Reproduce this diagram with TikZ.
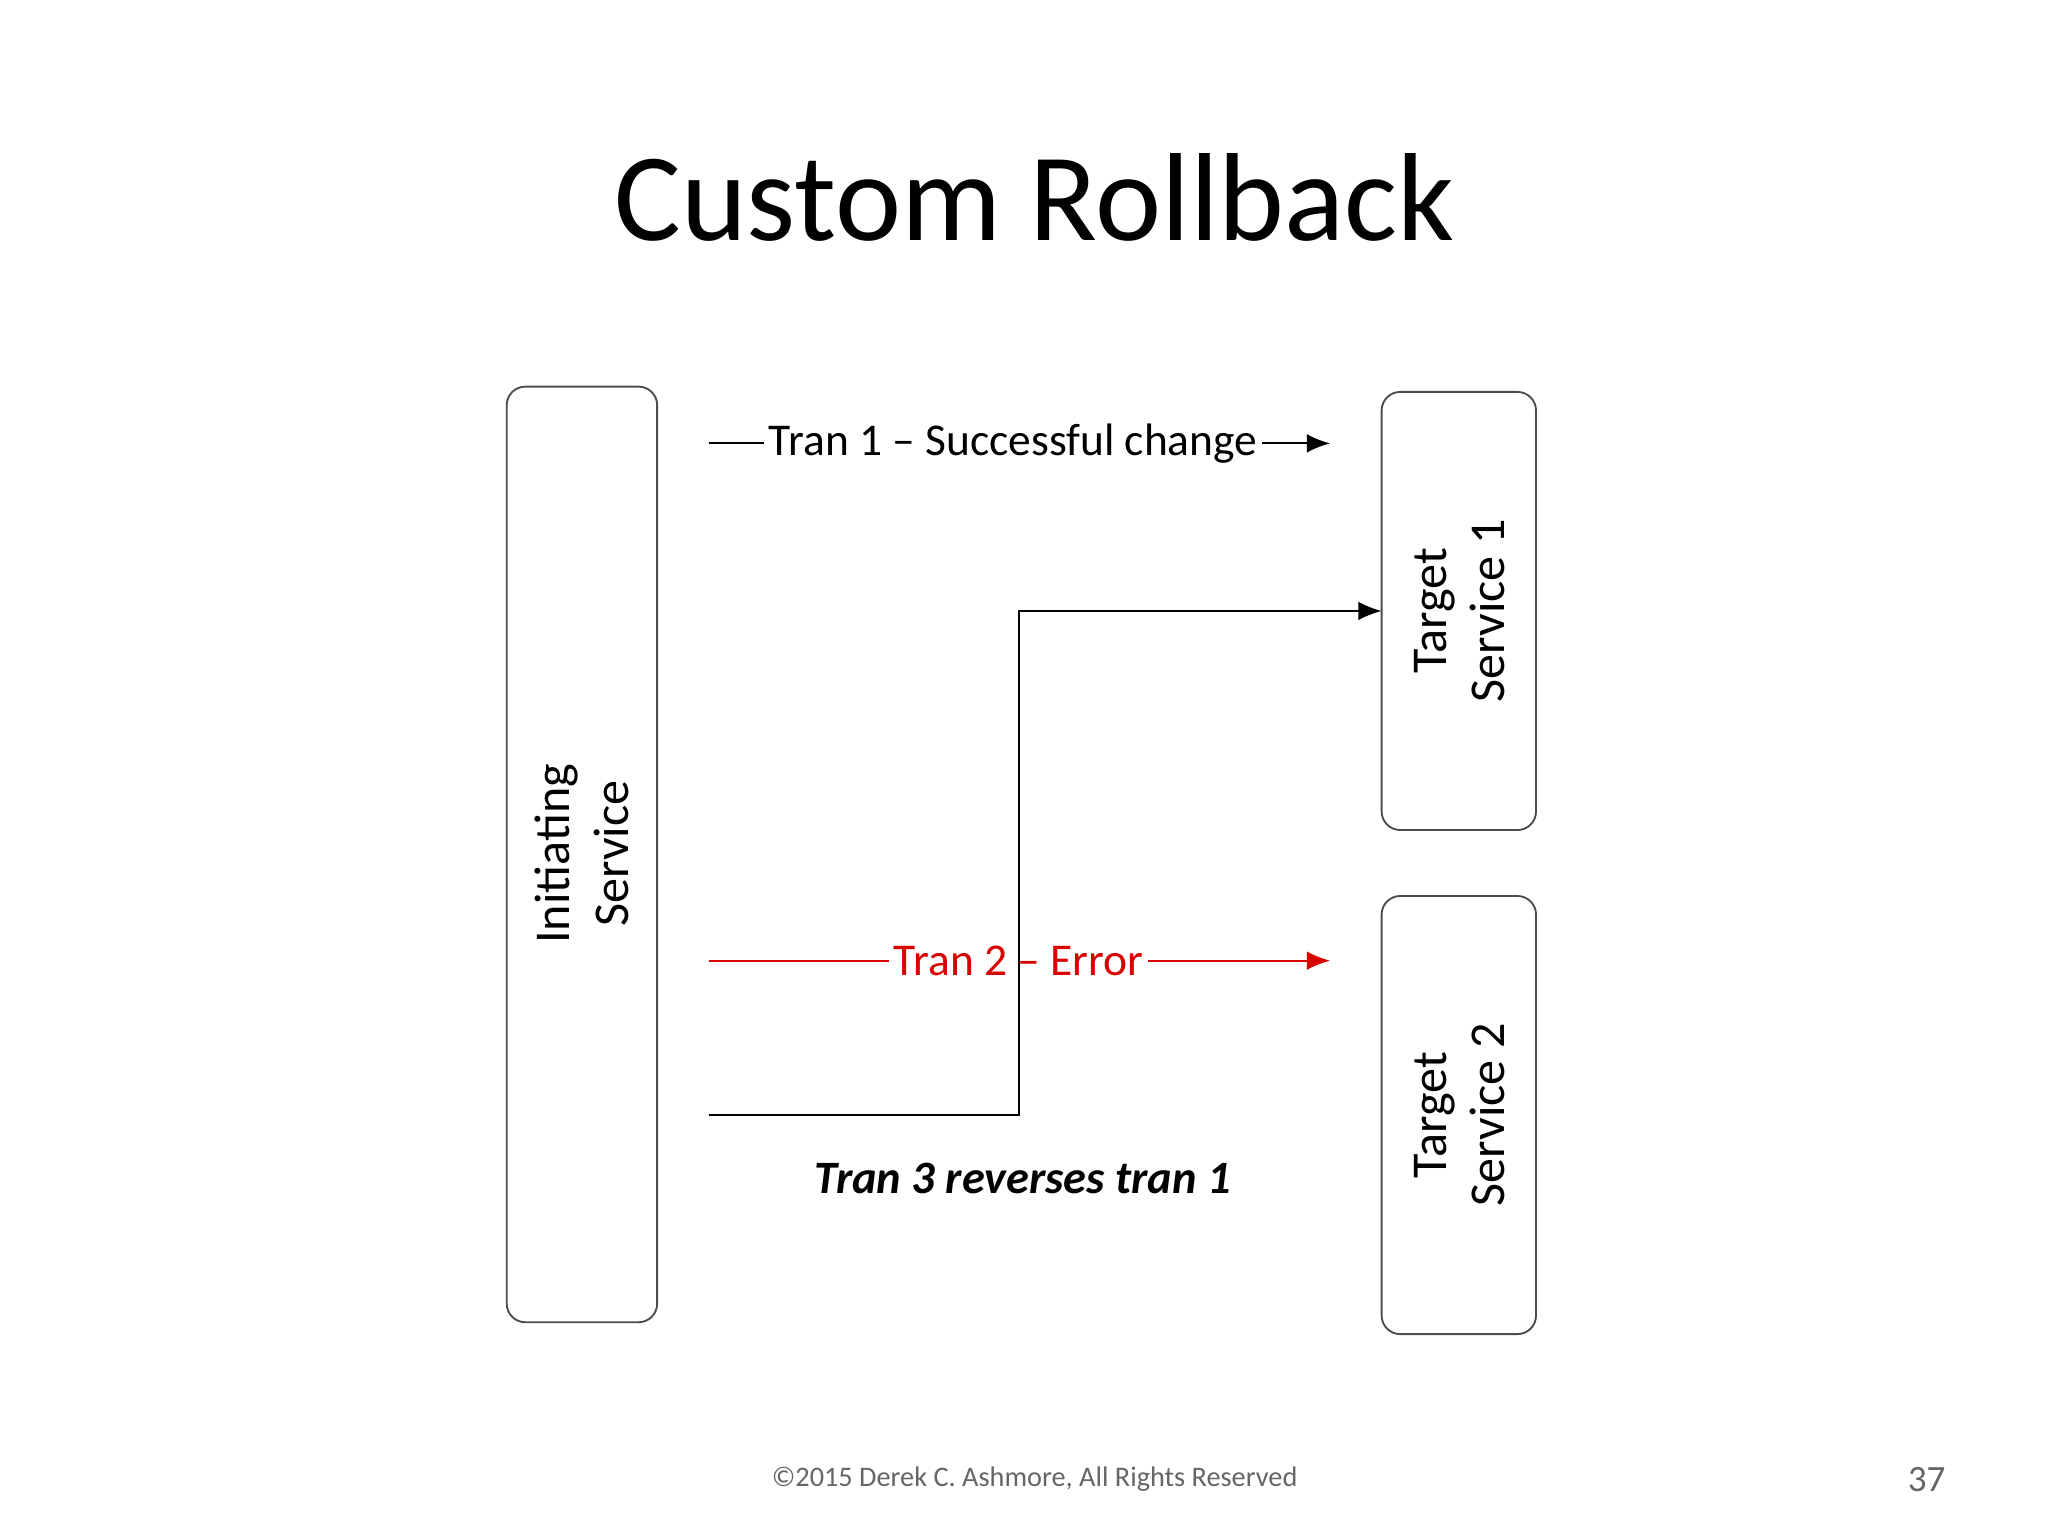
\documentclass[tikz,border=0pt]{standalone}
\usepackage{fontspec}
\setmainfont{Carlito}
\usetikzlibrary{arrows.meta}
\begin{document}
\begin{tikzpicture}[x=0.01cm,y=-0.01cm,
  box/.style={draw=black!70,line width=0.4pt,rounded corners=4pt},
  lbl/.style={font=\fontsize{10.8pt}{12.6pt}\selectfont,align=center,rotate=90},
  arr/.style={line width=0.4pt,-{Latex[length=5pt,width=4pt]}},
  onl/.style={fill=white,inner sep=1pt,font=\fontsize{9.8pt}{12pt}\selectfont}]
\useasboundingbox (0,0) rectangle (1552,1164);
\node (title) at (784,150) {\fontsize{27pt}{32pt}\selectfont Custom Rollback};
\draw[box] (384,293) rectangle (498,1002);
\draw[box] (1047,297) rectangle (1164,629);
\draw[box] (1047,679) rectangle (1164,1011);
\node[lbl] (init) at (441,647) {Initiating\\Service};
\node[lbl] (t1) at (1106,463) {Target\\Service 1};
\node[lbl] (t2) at (1106,845) {Target\\Service 2};
\coordinate (a1) at (537,336); \coordinate (b1) at (1008,336);
\draw[arr] (a1) -- (b1) node[onl,pos=0.49] (l1) {Tran 1 – Successful change};
\coordinate (a2) at (537,728); \coordinate (b2) at (1008,728);
\draw[arr,red!85!black] (a2) -- (b2);
\node[onl,text=red!85!black] (l2) at (772,728) {Tran 2 – Error};
\coordinate (a3) at (537,845); \coordinate (b3) at (1047,463);
\draw[arr] (a3) -- (772,845) -- (772,463) -- (b3);
\node[font=\fontsize{10pt}{12pt}\selectfont\bfseries\itshape] (l3) at (775,893) {Tran 3 reverses tran 1};
\node[text=black!60,font=\fontsize{6.1pt}{7.5pt}\selectfont] (foot) at (784,1121) {©2015 Derek C. Ashmore, All Rights Reserved};
\node[text=black!60,font=\fontsize{8pt}{10pt}\selectfont] (pg) at (1460,1121) {37};
\end{tikzpicture}
\end{document}
